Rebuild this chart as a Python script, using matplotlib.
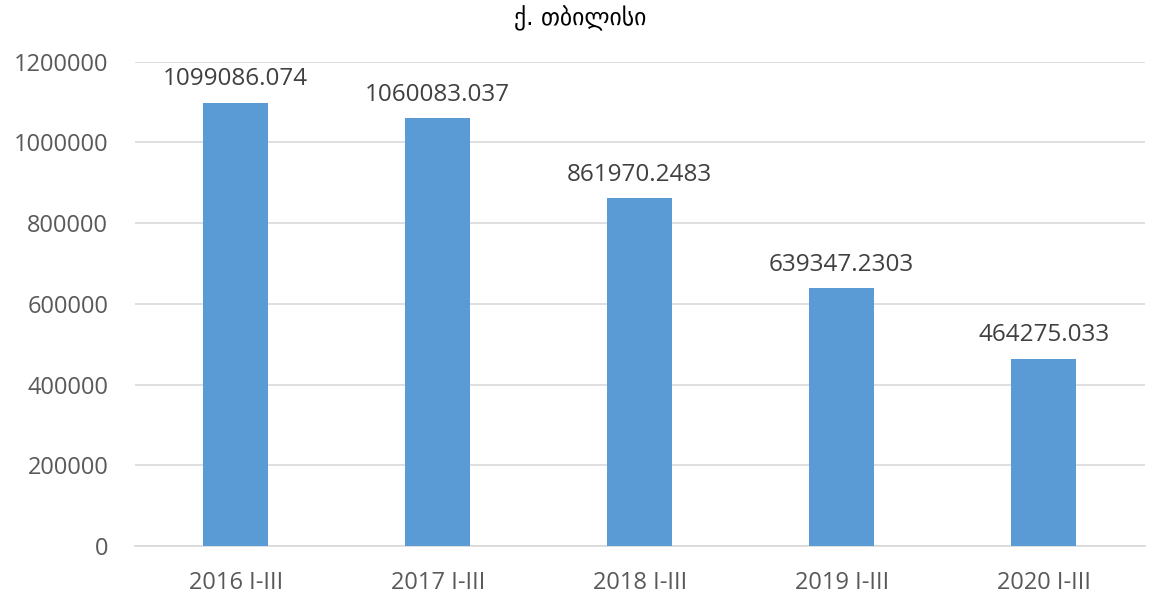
import matplotlib.pyplot as plt

categories = ['2016 I-III', '2017 I-III', '2018 I-III', '2019 I-III', '2020 I-III']
values = [1099086.074, 1060083.037, 861970.2483, 639347.2303, 464275.033]
value_labels = ['1099086.074', '1060083.037', '861970.2483', '639347.2303', '464275.033']
yticks = [0, 200000, 400000, 600000, 800000, 1000000, 1200000]

plt.rcParams['font.family'] = ['Open Sans', 'DejaVu Sans']

fig = plt.figure(figsize=(11.61, 6.12), dpi=100)
ax = fig.add_axes([0.116, 0.108, 0.870, 0.791])

x = range(len(categories))
ax.bar(x, values, width=0.32, color='#5b9bd5', zorder=3)

for xi, v, lab in zip(x, values, value_labels):
    ax.text(xi, v + 28000, lab, ha='center', va='bottom', fontsize=17.5, color='#404040')

ax.set_xlim(-0.5, len(categories) - 0.5)
ax.set_ylim(0, 1200000)
ax.set_yticks(yticks)
ax.set_yticklabels([str(t) for t in yticks])
ax.set_xticks(list(x))
ax.set_xticklabels(categories)
ax.tick_params(axis='both', length=0, labelsize=17, colors='#595959')
ax.tick_params(axis='y', pad=19)
ax.tick_params(axis='x', pad=18)
ax.grid(axis='y', color='#d9d9d9', linewidth=1.2, zorder=0)
for s in ['top', 'right', 'left']:
    ax.spines[s].set_visible(False)
ax.spines['bottom'].set_color('#d9d9d9')
ax.spines['bottom'].set_linewidth(1.2)

fig.text(0.5, 0.97, 'ქ. თბილისი', ha='center', va='center', fontsize=17,
         family=['DejaVu Sans'], color='#000000')

fig.savefig('out.png', dpi=100)
